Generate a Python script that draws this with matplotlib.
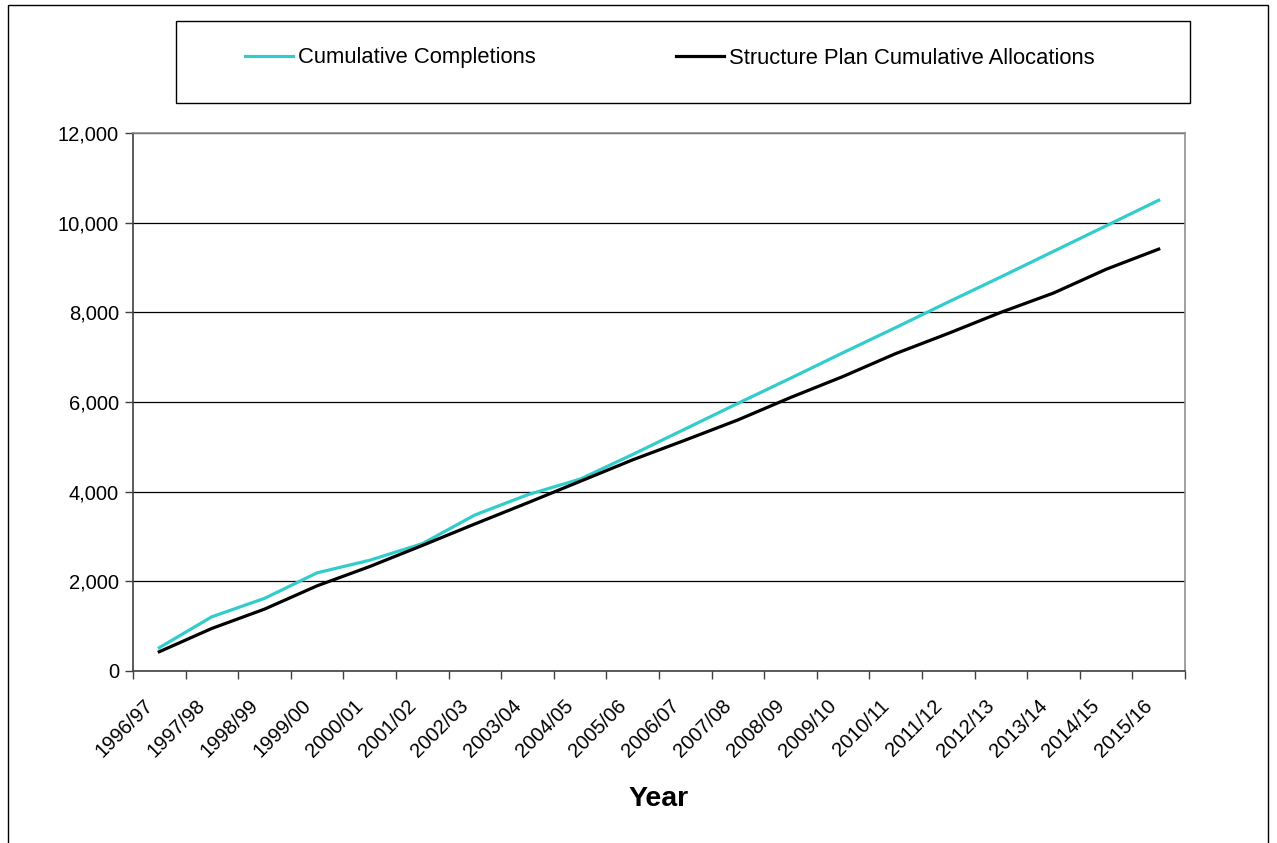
import matplotlib
matplotlib.use("Agg")
import matplotlib.pyplot as plt
from matplotlib.patches import Rectangle
from matplotlib.ticker import FuncFormatter, FixedLocator
from matplotlib.transforms import ScaledTranslation
import numpy as np

plt.rcParams['font.family'] = ['Liberation Sans', 'DejaVu Sans']

years = ['1996/97', '1997/98', '1998/99', '1999/00', '2000/01', '2001/02',
         '2002/03', '2003/04', '2004/05', '2005/06', '2006/07', '2007/08',
         '2008/09', '2009/10', '2010/11', '2011/12', '2012/13', '2013/14',
         '2014/15', '2015/16']
completions = [520, 1210, 1620, 2190, 2470, 2840, 3480, 3930, 4280, 4830,
               5400, 5970, 6530, 7100, 7660, 8230, 8790, 9360, 9930, 10500]
allocations = [430, 950, 1380, 1900, 2330, 2800, 3280, 3750, 4230, 4710,
               5150, 5600, 6100, 6570, 7080, 7530, 8000, 8430, 8960, 9410]

W, H = 1277, 843
fig = plt.figure(figsize=(W / 100, H / 100), dpi=100)

# outer chart border (runs off the bottom of the picture)
fig.patches.append(Rectangle((8 / W, -0.05), (1268 - 8) / W, 1.05 - 5 / H,
                             transform=fig.transFigure, fill=False,
                             edgecolor='black', linewidth=1))
# legend box
fig.patches.append(Rectangle((176 / W, 1 - 103 / H), (1190 - 176) / W, (103 - 21) / H,
                             transform=fig.transFigure, fill=False,
                             edgecolor='black', linewidth=1))

ax = fig.add_axes([133 / W, 1 - 671 / H, (1185 - 133) / W, (671 - 133) / H])
x = np.arange(len(years))
l1, = ax.plot(x, completions, color='#33CCCC', lw=2.3, solid_joinstyle='miter')
l2, = ax.plot(x, allocations, color='black', lw=2.3, solid_joinstyle='miter')

ax.set_xlim(-0.5, len(years) - 0.5)
ax.set_ylim(0, 12000)
ax.set_yticks(np.arange(0, 12001, 2000))
ax.yaxis.set_major_formatter(FuncFormatter(lambda v, p: f'{int(v):,}'))
ax.grid(axis='y', color='black', lw=0.9)
ax.set_axisbelow(True)

ax.set_xticks(x)
ax.set_xticklabels(years, rotation=45, ha='right', va='top', rotation_mode='anchor')
ax.xaxis.set_minor_locator(FixedLocator(np.arange(-0.5, len(years), 1.0)))
ax.tick_params(axis='x', which='major', length=0, pad=18, labelsize=14.5)
ax.tick_params(axis='x', which='minor', length=6, width=1, color='#404040')
ax.tick_params(axis='y', length=6, width=1, color='#404040', labelsize=14.5, pad=4)
shift = ScaledTranslation(-16 / 100, 0, fig.dpi_scale_trans)
for lbl in ax.get_xticklabels():
    lbl.set_transform(lbl.get_transform() + shift)

for s in ['top', 'right']:
    ax.spines[s].set_color('#909090')
    ax.spines[s].set_linewidth(1.2)
ax.spines['left'].set_color('#404040')
ax.spines['bottom'].set_color('#404040')
ax.spines['left'].set_linewidth(1.2)
ax.spines['bottom'].set_linewidth(1.2)

fig.text(659 / W, 1 - 806 / H, 'Year', ha='center', va='baseline',
         fontsize=20.5, fontweight='bold')

fig.legend([l1, l2], ['Cumulative Completions', 'Structure Plan Cumulative Allocations'],
           loc='center', bbox_to_anchor=(670 / W, 1 - 58 / H), ncol=2, frameon=False,
           fontsize=15.8, handlelength=2.19, handletextpad=0.23, columnspacing=6.4)

fig.savefig('out.png', dpi=100)
